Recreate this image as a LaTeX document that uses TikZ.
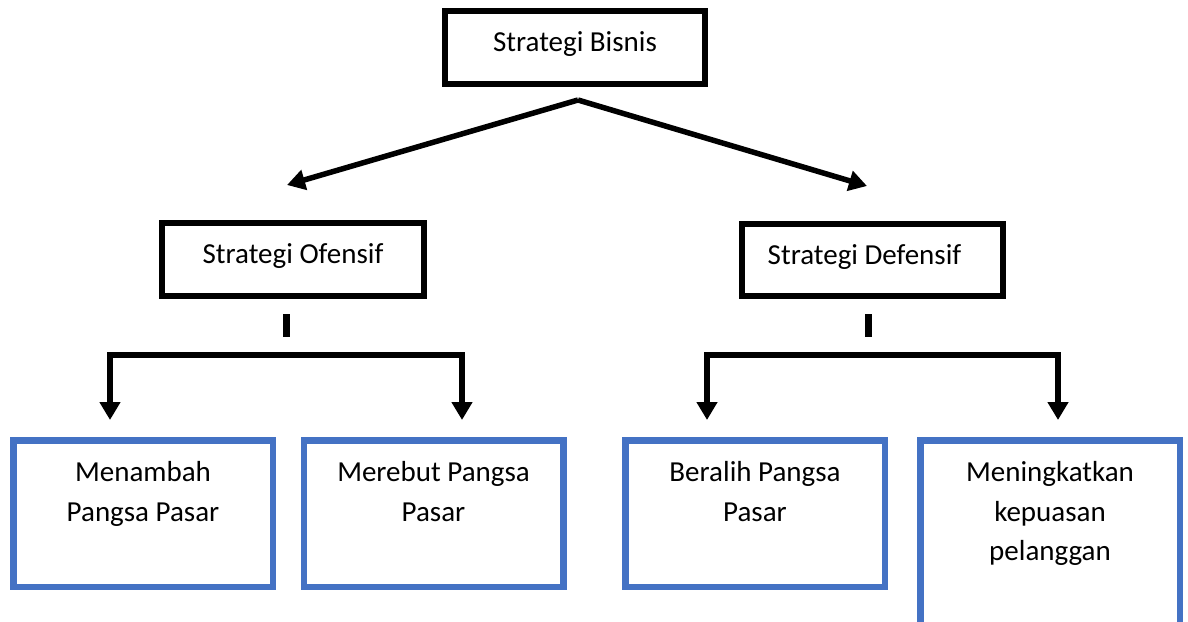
\documentclass[tikz,border=0pt]{standalone}
\usepackage{fontspec}
\setmainfont{Carlito}
\usetikzlibrary{arrows.meta}
\definecolor{boxblue}{HTML}{4472C4}
\begin{document}
\begin{tikzpicture}[x=1pt,y=-1pt,
  blackbox/.style={draw=black, line width=6pt, rectangle, inner sep=0pt,
    font=\fontsize{29}{35}\selectfont},
  bluebox/.style={draw=boxblue, line width=6.5pt, rectangle, inner sep=0pt,
    minimum width=259.5pt, minimum height=146.5pt},
  boxtext/.style={inner sep=0pt, align=center, anchor=north,
    font=\fontsize{29}{39.2}\selectfont},
  conn/.style={line width=5.5pt, -{Triangle[length=18pt,width=20pt]}},
  bracket/.style={line width=5.5pt, {Triangle[length=18pt,width=20pt]}-{Triangle[length=18pt,width=20pt]}},
  stub/.style={line width=7pt}
]
\useasboundingbox (0,0) rectangle (1188,621);
\clip (0,0) rectangle (1188,621);

% top level
\node[blackbox, minimum width=260pt, minimum height=73pt, text height=41pt, text depth=32pt]
  (top) at (575,47) {Strategi Bisnis};

% second level
\node[blackbox, minimum width=262pt, minimum height=73pt, text height=40pt, text depth=33pt]
  (off) at (293,259.5) {Strategi Ofensif};
\node[blackbox, minimum width=261pt, minimum height=72pt, text height=40pt, text depth=32pt]
  (def) at (872.5,260) {Strategi Defensif\hspace*{16pt}};

% bottom boxes
\node[bluebox] (b1) at (143,513.5) {};
\node[bluebox] (b2) at (433.5,513.5) {};
\node[bluebox] (b3) at (755,513.5) {};
\node[bluebox, minimum height=220pt] (b4) at (1050,550.25) {};

\node[boxtext] (t1) at ([yshift=-24.5pt]b1.north) {Menambah\\Pangsa Pasar};
\node[boxtext] (t2) at ([yshift=-24.5pt]b2.north) {Merebut Pangsa\\Pasar};
\node[boxtext] (t3) at ([yshift=-24.5pt]b3.north) {Beralih Pangsa\\Pasar};
\node[boxtext] (t4) at ([yshift=-24.5pt]b4.north) {Meningkatkan\\kepuasan\\pelanggan};

% diagonal arrows
\coordinate (apex) at (578,100);
\coordinate (tipL) at (287,185);
\coordinate (tipR) at (867,186);
\draw[conn] (apex) -- (tipL);
\draw[conn] (apex) -- (tipR);

% stubs
\coordinate (s1t) at (286,314);
\coordinate (s1b) at (286,337);
\coordinate (s2t) at (868,314);
\coordinate (s2b) at (868,337);
\draw[stub] (s1t) -- (s1b);
\draw[stub] (s2t) -- (s2b);

% brackets
\coordinate (oL) at (110,420);
\coordinate (oH) at (286,355);
\coordinate (oR) at (462,420);
\draw[bracket] (oL) |- (oH) -| (oR);
\coordinate (dL) at (707,420);
\coordinate (dH) at (868,355);
\coordinate (dR) at (1058,420);
\draw[bracket] (dL) |- (dH) -| (dR);
\end{tikzpicture}
\end{document}
